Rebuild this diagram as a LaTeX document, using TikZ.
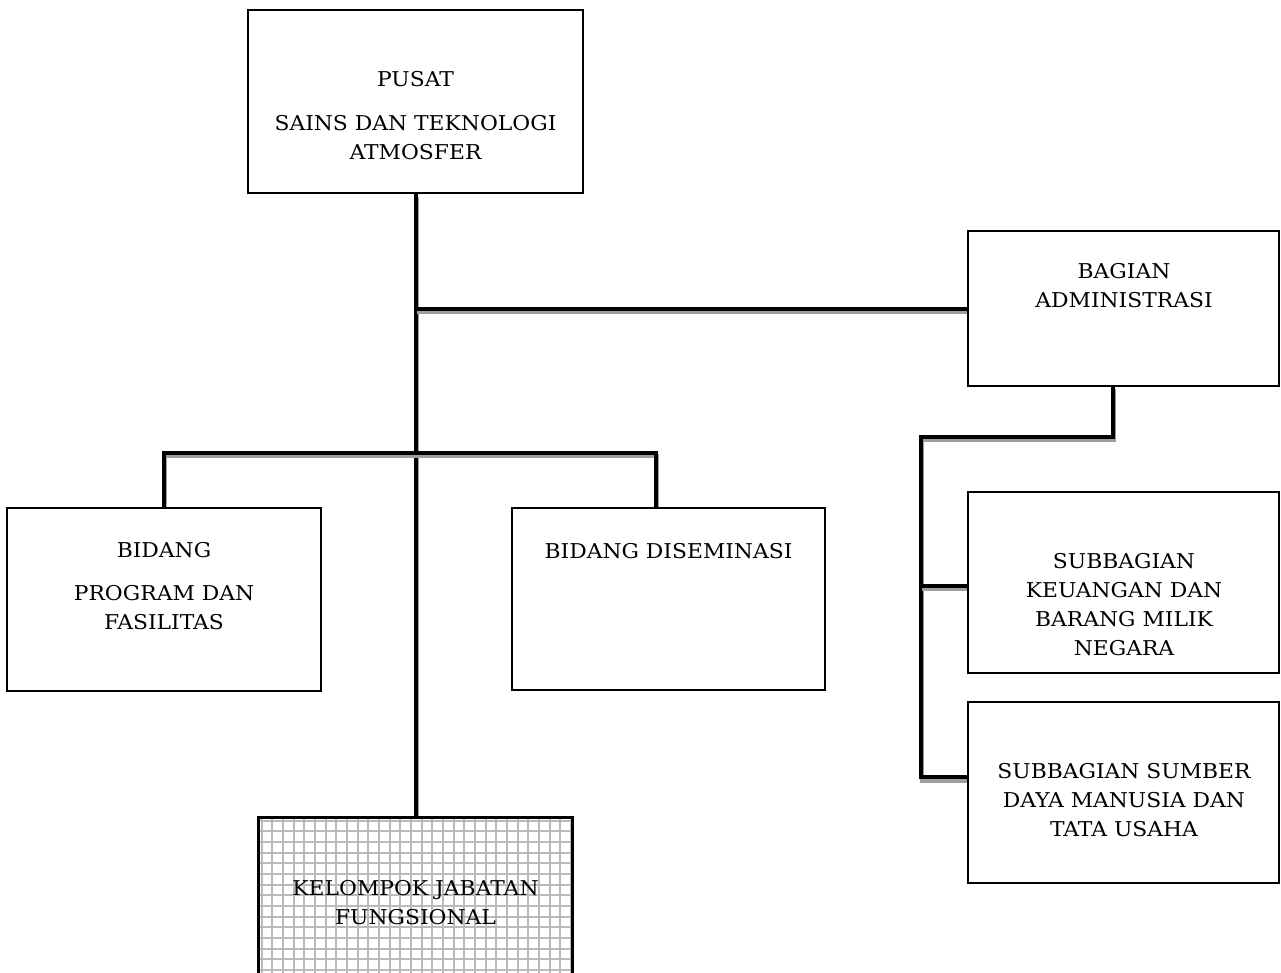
\documentclass[tikz,border=0pt]{standalone}
\usepackage{fontspec}
\setmainfont{DejaVu Serif}[FakeStretch=1.07]
\pgfdeclarelayer{wires}
\pgfsetlayers{wires,main}
\begin{document}
\begin{tikzpicture}[x=0.75pt,y=-0.75pt,
  unit/.style={draw=black, line width=1.4pt, fill=white, rectangle, inner sep=0pt},
  caption/.style={align=center, inner sep=0pt, anchor=north,
    font=\fontsize{15.3pt}{21.75pt}\selectfont},
  link/.style={line width=3pt, draw=black,
    preaction={draw=black!38, line width=3pt,
      transform canvas={shift={(1.1pt,-2.6pt)}}}},
  gridline/.style={draw=black!27, line width=1.3pt}
]
\useasboundingbox (0,0) rectangle (1281,972);
\clip (0,0) rectangle (1281,972);

% boxes
\node[unit, minimum width=251.25pt, minimum height=137.25pt] (pusat) at (415.5,101.5) {};
\node[unit, minimum width=233.25pt, minimum height=116.25pt] (admin) at (1123.5,308.5) {};
\node[unit, minimum width=233.25pt, minimum height=135.75pt] (keu) at (1123.5,582.5) {};
\node[unit, minimum width=233.25pt, minimum height=135.75pt] (sdm) at (1123.5,792.5) {};
\node[unit, minimum width=235.5pt, minimum height=137.25pt] (prog) at (164,599.5) {};
\node[unit, minimum width=234.75pt, minimum height=136.5pt] (dis) at (668.5,599) {};
\node[unit, minimum width=234.75pt, minimum height=136.5pt,
  path picture={
    \foreach \k in {0,...,30}
      \draw[gridline] ([xshift=2pt+\k*8pt]path picture bounding box.north west)
        -- ([xshift=2pt+\k*8pt]path picture bounding box.south west);
    \foreach \k in {0,...,18}
      \draw[gridline] ([yshift=-2pt-\k*8pt]path picture bounding box.north west)
        -- ([yshift=-2pt-\k*8pt]path picture bounding box.north east);
  }] (kjf) at (415.5,909) {};
\draw[draw=black, line width=1.4pt] (kjf.south west) rectangle (kjf.north east);

% captions
\node[caption] (tPusat) at (415.5,71) {PUSAT\\[11.25pt] SAINS DAN TEKNOLOGI\\ ATMOSFER};
\node[caption] (tAdmin) at (1124,263) {BAGIAN\\ ADMINISTRASI};
\node[caption] (tKeu) at (1124,553) {SUBBAGIAN\\ KEUANGAN DAN\\ BARANG MILIK\\ NEGARA};
\node[caption] (tSdm) at (1124,763) {SUBBAGIAN SUMBER\\ DAYA MANUSIA DAN\\ TATA USAHA};
\node[caption] (tProg) at (164,542) {BIDANG\\[10.5pt] PROGRAM DAN\\ FASILITAS};
\node[caption] (tDis) at (668.5,543) {BIDANG DISEMINASI};
\node[caption] (tKjf) at (415.5,880) {KELOMPOK JABATAN\\ FUNGSIONAL};

% helper coordinates for the elbow connectors
\coordinate (barY) at (0,453);
\coordinate (admY) at (0,437);
\coordinate (spineX) at (921,0);
\coordinate (admDrop) at (1113,386);
\coordinate (disIn) at ([xshift=-9.4pt]dis.north);
\coordinate (keuIn) at ([yshift=-2.6pt]keu.west);
\coordinate (sdmIn) at ([yshift=11.6pt]sdm.west);

\begin{pgfonlayer}{wires}
  \draw[link] (pusat.south) -- (kjf.north);
  \draw[link] (pusat.south |- admin.west) -- (admin.west);
  \draw[link] (prog.north) -- (prog.north |- barY) -- (disIn |- barY) -- (disIn);
  \draw[link] (admDrop) -- (admDrop |- admY) -- (spineX |- admY)
    -- (spineX |- sdmIn) -- (sdmIn);
  \draw[link] (spineX |- keuIn) -- (keuIn);
\end{pgfonlayer}
\end{tikzpicture}
\end{document}
